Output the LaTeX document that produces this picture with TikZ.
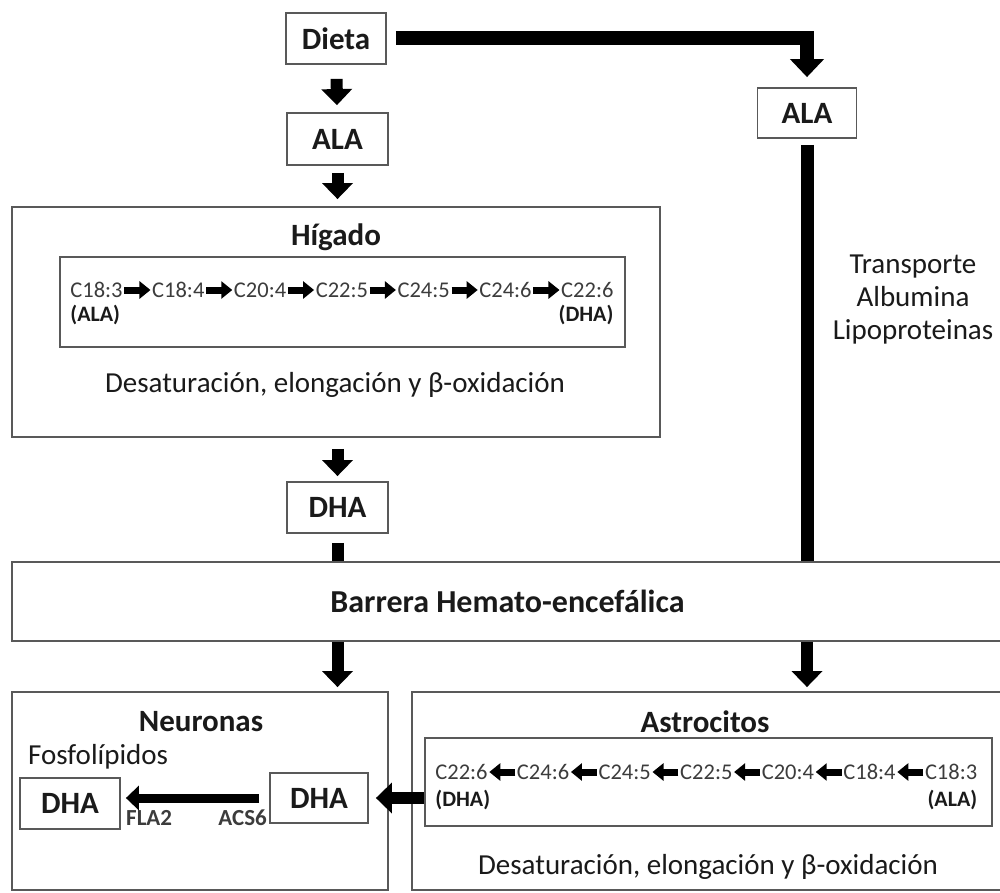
\documentclass[tikz,border=0pt]{standalone}
\usepackage{fontspec}
\setmainfont{Carlito}
\usetikzlibrary{arrows.meta, positioning, calc}
\definecolor{inkblk}{HTML}{1A1A1A}
\definecolor{boxgray}{HTML}{595959}

\begin{document}
\begin{tikzpicture}[x=1pt, y=-1pt,
  labelbox/.style={draw=boxgray, line width=1.8pt, text=inkblk, inner sep=0pt,
    font=\fontsize{31}{36}\selectfont\bfseries},
  panel/.style={draw=boxgray, line width=1.8pt, inner sep=0pt},
  paneltitle/.style={text=inkblk, inner sep=0pt, font=\fontsize{31}{36}\selectfont\bfseries},
  bodytext/.style={text=inkblk, inner sep=0pt, font=\fontsize{29}{33}\selectfont},
  chainlbl/.style={text=inkblk!85, inner sep=0pt, font=\fontsize{22.5}{24}\selectfont},
  chaintag/.style={text=inkblk, inner sep=0pt, font=\fontsize{22}{24}\selectfont\bfseries},
  enzyme/.style={text=inkblk!85, inner sep=0pt, font=\fontsize{23}{26}\selectfont\bfseries},
  bigarrow/.style={line width=12pt, -{Triangle[length=16pt, width=30pt]}},
  linkbar/.style={line width=12pt},
  minarrow/.style={line width=7pt, -{Triangle[length=11pt, width=17pt]}, shorten <=1.5pt, shorten >=1.5pt}
]
\useasboundingbox (0,0) rectangle (1000,893);

% Top part: diet and liver
\node[labelbox, minimum width=100pt, minimum height=51pt] (dieta) at (336,38.5) {Dieta};
\node[labelbox, minimum width=101pt, minimum height=52pt] (ala1) at (337.5,139) {ALA};
\node[labelbox, minimum width=99pt, minimum height=50pt] (ala2) at (807,113) {ALA};

\node[panel, minimum width=648pt, minimum height=230pt] (higado) at (336,322) {};
\node[paneltitle] (higtitle) at (336,237) {Hígado};
\node[panel, minimum width=565pt, minimum height=90pt] (higchain) at (342.5,302) {};
\foreach \lbl [count=\i from 0] in {C18:3,C18:4,C20:4,C22:5,C24:5,C24:6,C22:6}
  \node[chainlbl] (h\i) at ({96.5+81.8*\i},290) {\lbl};
\foreach \i [count=\j from 1] in {0,...,5}
  \draw[minarrow] (h\i.east) -- (h\j.west);
\node[chaintag, anchor=west] (hala) at ($(h0.west)+(0,25)$) {(ALA)};
\node[chaintag, anchor=east] (hdha) at ($(h6.east)+(0,25)$) {(DHA)};
\node[bodytext] (desat1) at (335,385) {Desaturación, elongación y β-oxidación};

\node[labelbox, minimum width=101pt, minimum height=51pt] (dha1) at (337.5,507.5) {DHA};

% Transport to the right
\node[bodytext, align=center] (transp) at (913,300) {Transporte\\Albumina\\Lipoproteinas};

% Barrier
\node[panel, minimum width=991pt, minimum height=79pt, font=\fontsize{32}{36}\selectfont\bfseries, text=inkblk] (barrera) at (507.5,601.5) {Barrera Hemato-encefálica};

% Brain cells
\node[panel, minimum width=376pt, minimum height=198pt] (neuronas) at (200,791) {};
\node[panel, minimum width=591pt, minimum height=198pt] (astro) at (707.5,791) {};
\node[paneltitle] (neutitle) at (201,722) {Neuronas};
\node[paneltitle] (astitle) at (705,722) {Astrocitos};
\node[bodytext, anchor=west] (fosfo) at (28,757) {Fosfolípidos};
\node[labelbox, minimum width=100pt, minimum height=51pt] (dhaL) at (70,803.5) {DHA};
\node[labelbox, minimum width=98pt, minimum height=50pt] (dhaR) at (319,798) {DHA};
\node[enzyme, anchor=west] (fla) at (126,818) {FLA2};
\node[enzyme, anchor=east] (acs) at (267,818) {ACS6};

\node[panel, minimum width=567pt, minimum height=88pt] (aschain) at (708.5,782) {};
\foreach \lbl [count=\i from 0] in {C22:6,C24:6,C24:5,C22:5,C20:4,C18:4,C18:3}
  \node[chainlbl] (a\i) at ({461.5+81.6*\i},772) {\lbl};
\foreach \i [count=\j from 1] in {0,...,5}
  \draw[minarrow] (a\j.west) -- (a\i.east);
\node[chaintag, anchor=west] (adha) at ($(a0.west)+(0,28)$) {(DHA)};
\node[chaintag, anchor=east] (aala) at ($(a6.east)+(0,28)$) {(ALA)};
\node[bodytext] (desat2) at (708,867) {Desaturación, elongación y β-oxidación};

% Connectors
\draw[line width=14pt, -{Triangle[length=18pt, width=33pt]}, shorten <=9pt, shorten >=10pt] (dieta.east) -| (ala2.north);
\draw[bigarrow, shorten <=14pt, shorten >=7pt] (dieta) -- (ala1);
\draw[bigarrow, shorten <=7pt, shorten >=7pt] (ala1) -- (higado.north -| ala1);
\draw[bigarrow, shorten <=11pt, shorten >=5pt] (higado.south -| dha1) -- (dha1);
\draw[linkbar, shorten <=9pt] (dha1.south) -- (dha1.south |- barrera.north);
\draw[bigarrow, shorten >=4pt] (dha1.south |- barrera.south) -- (dha1.south |- neuronas.north);
\draw[linkbar, line width=13pt, shorten <=6pt] (ala2.south) -- (ala2.south |- barrera.north);
\draw[bigarrow, shorten >=4pt] (ala2.south |- barrera.south) -- (ala2.south |- astro.north);
\draw[bigarrow, shorten >=7pt] (aschain.west |- dhaR.east) -- (dhaR.east);
\draw[line width=9pt, -{Triangle[length=13pt, width=24pt]}, shorten <=10pt, shorten >=5pt] (dhaR.west) -- (dhaR.west -| dhaL.east);

\end{tikzpicture}
\end{document}
